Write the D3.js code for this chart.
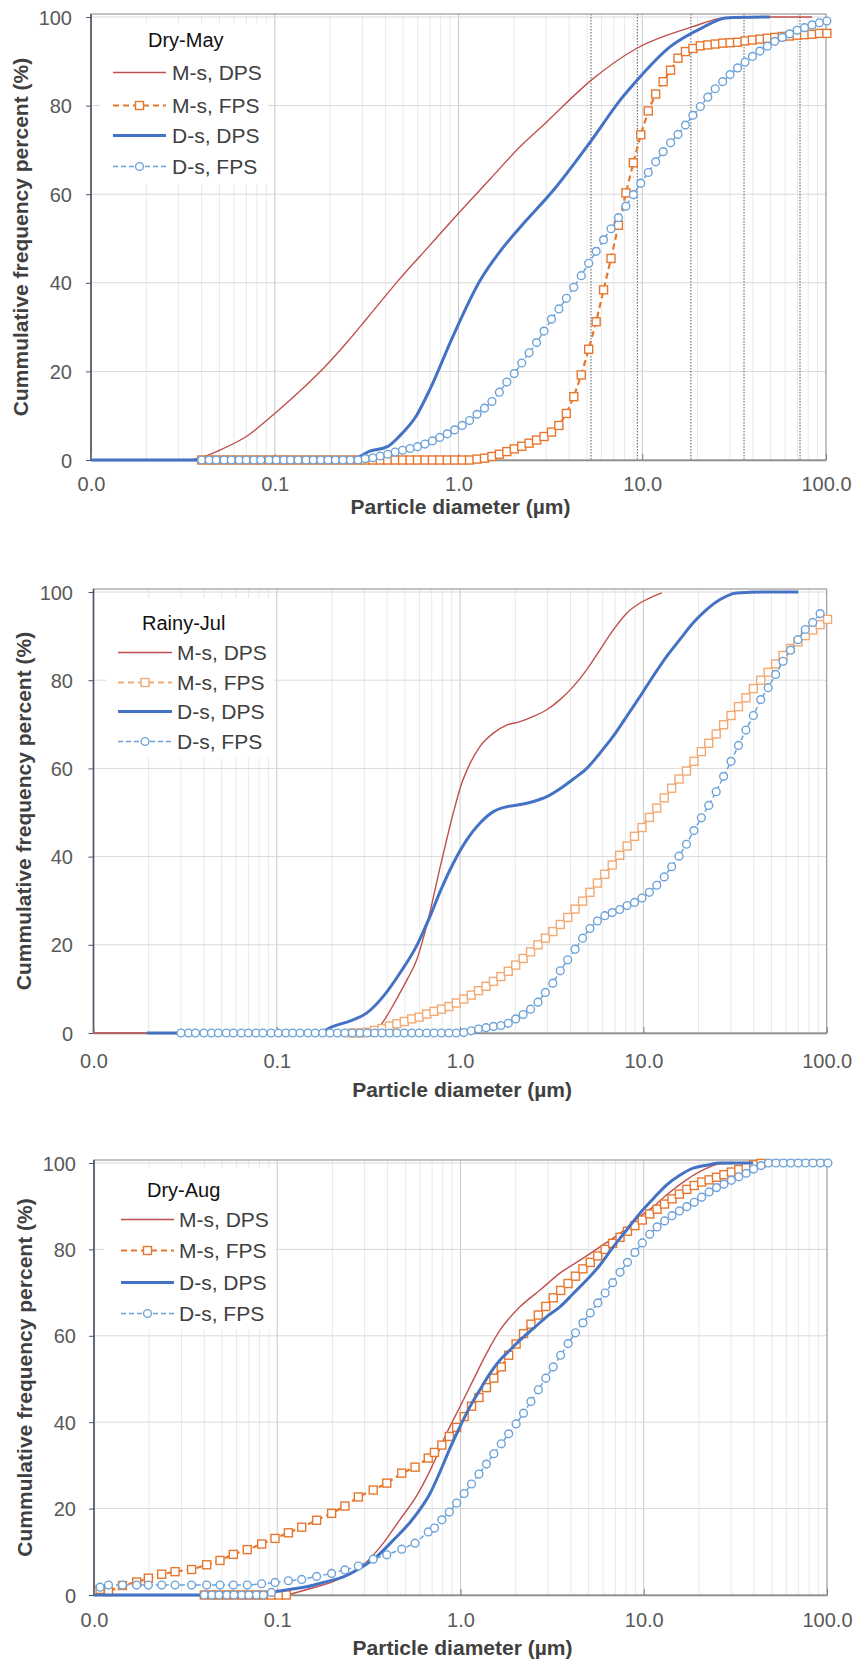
<!DOCTYPE html>
<html><head><meta charset="utf-8">
<script src="https://cdn.jsdelivr.net/npm/d3@7"></script>
<style>body{margin:0;background:#fff}</style>
</head><body>
<svg id="c" width="853" height="1673"></svg>
<script>
// ---------------- DATA ----------------
const panelTitles = ["Dry-May", "Rainy-Jul", "Dry-Aug"];
const seriesNames = ["M-s, DPS", "M-s, FPS", "D-s, DPS", "D-s, FPS"];
const xTickValues = [0.01, 0.1, 1, 10, 100];
const xTickLabels = ["0.0", "0.1", "1.0", "10.0", "100.0"];
const yTickValues = [0, 20, 40, 60, 80, 100];
const xAxisTitle = "Particle diameter (\u00b5m)";
const yAxisTitle = "Cummulative frequency percent (%)";
const dottedSizes = [5.26, 9.4, 18.4, 35.8, 72.2];

// size channels (µm) used by the FPS marker series
const sizes = [0.030,0.033,0.036,
0.040,0.044,0.048,0.053,0.058,0.064,0.070,0.077,0.084,0.093,
0.102,0.112,0.122,0.134,0.148,0.162,0.178,0.195,0.214,0.235,
0.258,0.284,0.311,0.342,0.375,0.412,0.452,0.496,0.545,0.598,
0.657,0.721,0.791,0.869,0.953,1.047,1.149,1.261,1.385,1.520,
1.669,1.832,2.011,2.208,2.423,2.660,2.920,3.206,3.519,3.863,
4.241,4.656,5.111,5.611,6.159,6.761,7.422,8.148,8.944,9.819,
10.78,11.83,12.99,14.26,15.65,17.18,18.86,20.71,22.73,24.95,
27.39,30.07,33.01,36.24,39.78,43.67,47.94,52.62,57.77,63.41,
69.61,76.42,83.89,92.09,101.1];

// ---- Dry-May ----
const mayMsDpsSizes = [0.01,0.033,0.04,0.05,0.07,0.1,0.14,0.187,0.25,0.318,0.47,0.7,1.0,1.5,2.16,3.0,5.3,9.4,18.5,28,40,84];
const mayMsDpsValues = [0,0,0.6,2.2,5.3,10.5,15.9,21,26.8,32,40.5,48.5,55.7,63.6,70.7,76.2,85.8,93,97.7,99.8,100,100];
const mayDsDpsSizes = [0.01,0.257,0.33,0.41,0.48,0.59,0.7,0.93,1.31,1.75,2.16,3.3,5.3,7.6,9.4,14.2,21.5,28.5,49.5];
const mayDsDpsValues = [0,0,2,3,5.5,10,16,27.8,40.5,48,52.5,61,72.2,81.3,85.8,93.3,97.7,99.8,100];
const mayMsFps = [null,null,null,
0,0,0,0,0,0,0,0,0,0,
0,0,0,0,0,0,0,0,0,0,
0,0,0,0,0,0,0,0,0,0,
0,0,0,0,0,0,0,
0.2,0.4,0.8,
1.3,1.9,2.5,3.1,3.8,4.5,5.3,6.3,7.8,10.5,
14.3,19.2,25,31.2,38.4,45.5,53,60.3,67.1,73.4,
78.8,82.6,85.4,88,90.7,92.2,92.9,93.5,93.7,93.9,
94.1,94.2,94.3,94.6,94.8,95,95.2,95.4,95.6,95.7,
95.9,96,96.1,96.3,96.3];
const mayDsFps = [null,null,null,
0,0,0,0,0,0,0,0,0,0,
0,0,0,0,0,0,0,0,0,0,
0,0,
0.3,0.5,0.9,1.3,1.8,2.2,2.6,3.0,
3.6,4.3,5.1,5.9,6.8,7.8,8.9,10.3,11.7,13.2,
15.3,17.6,19.5,21.9,24.2,26.5,29.1,31.8,34.1,36.5,
39,41.6,44.4,47.1,49.7,52.2,54.7,57.3,59.9,62.5,
64.9,67.3,69.6,71.6,73.5,75.6,77.8,79.8,81.9,83.8,
85.4,87.0,88.5,89.8,91.1,92.3,93.4,94.5,95.4,96.2,
97.0,97.6,98.2,98.7,99.1];

// ---- Rainy-Jul ----
const julMsDpsSizes = [0.01,0.336,0.36,0.398,0.43,0.47,0.52,0.58,0.63,0.686,0.73,0.777,0.83,0.881,0.94,1.0,1.135,1.285,1.518,1.795,2.12,2.51,2.97,3.51,4.15,4.91,5.8,6.85,8.11,9.58,11.3,12.6];
const julMsDpsValues = [0,0,1.2,3.8,6.2,9.1,12.5,16.6,21.5,27.5,32.5,37.5,42.5,47,51.5,55.5,61.2,65,68,69.8,70.6,71.8,73.3,75.6,78.6,82.4,86.9,91.4,95.2,97.5,99,99.8];
const julDsDpsSizes = [0.0196,0.165,0.203,0.261,0.309,0.381,0.47,0.58,0.686,0.777,0.918,1.087,1.285,1.518,1.795,2.12,2.51,2.97,3.51,4.15,4.91,5.8,6.85,8.11,9.58,11.3,13.4,15.8,18.7,22.1,26.2,32.3,45.1,70];
const julDsDpsValues = [0,0,1.5,3.0,4.5,8.3,13.6,19.8,26.5,32,38.5,43.8,47.6,50.2,51.3,51.8,52.5,53.6,55.4,57.6,60,63.5,67.3,71.8,76.3,80.9,85.4,89.2,93,96,98.3,99.8,100,100];
const julMsFps = [null,null,null,
null,null,null,null,null,null,null,null,null,null,
null,null,null,null,null,null,null,null,null,null,
0,0,0.2,0.6,1.0,1.6,2.1,2.6,3.2,3.6,
4.3,4.9,5.4,6.0,6.8,7.7,8.6,9.6,10.6,11.7,
12.8,14.0,15.4,16.9,18.4,20.0,21.5,23.0,24.6,26.2,
28.1,29.9,31.9,34.0,36.0,38.1,40.3,42.4,44.6,46.6,
48.9,51.0,53.3,55.5,57.6,59.4,61.6,63.8,65.7,67.8,
69.9,72.0,74.0,76.0,78.1,80.0,81.8,83.7,85.6,87.2,
88.7,90.1,91.4,92.6,93.8];
const julDsFps = [0,0,0,
0,0,0,0,0,0,0,0,0,0,
0,0,0,0,0,0,0,0,0,0,
0,0,0,0,0,0,0,0,0,0,
0,0,0,0,0,
0.1,0.5,0.9,1.2,1.5,
1.7,2.2,3.2,4.2,5.4,7.0,9.2,11.3,14.1,16.6,
19.0,21.5,23.7,25.4,26.6,27.3,28.0,28.9,29.6,30.6,
31.9,33.5,35.4,37.7,40.1,42.8,45.9,48.8,51.6,54.7,
58.2,61.6,65.2,68.7,72.0,75.6,78.3,81.3,84.3,86.8,
89.2,91.5,93.1,95.1,null];

// ---- Dry-Aug ----
const augMsDpsSizes = [0.1126,0.133,0.164,0.202,0.249,0.308,0.379,0.468,0.577,0.682,0.841,0.994,1.174,1.39,1.643,2.11,2.72,3.49,4.49,5.77,7.42,9.54,11.3,13.3,17.1,22.1,26.1,39.5];
const augMsDpsValues = [0,0.8,1.9,3.1,5.0,7.7,12,17.5,23,28.8,37.5,43.6,49.8,56,61.3,66.7,70.6,74.5,77.5,80.6,83.7,87.6,89.9,92.6,96.1,98.8,99.8,100];
const augDsDpsSizes = [0.01,0.071,0.0993,0.1174,0.1448,0.1862,0.2293,0.2829,0.3489,0.4299,0.530,0.601,0.682,0.773,0.877,0.994,1.127,1.277,1.449,1.643,1.863,2.11,2.50,2.95,3.49,4.13,4.88,5.77,6.82,8.07,9.54,11.3,13.3,15.8,18.6,22.1,26.1,39.5];
const augDsDpsValues = [0,0,0.8,1.3,1.9,3.1,4.2,6.2,8.9,12.7,16.8,19.8,23.5,28.5,34,39,43.6,47.5,51.3,54.4,56.7,59,61.7,64.4,66.7,69.8,72.9,76.4,80.6,84.5,88.4,91.8,94.9,97.2,98.8,99.5,100,100];
const augMsFps = [null,null,null,
0,0,0,0,0,0,0,0,0,0,0,0,
null,null,null,null,null,null,null,null,null,null,null,null,null,null,null,null,null,null,null,
33.0,34.7,36.7,38.8,41.3,43.7,45.7,48.0,50.2,
52.8,55.5,58.1,60.5,62.7,64.8,66.8,68.8,70.5,72.1,
73.8,75.5,77.0,78.5,80.0,81.4,82.8,84.2,85.5,86.8,
88.2,89.3,90.5,91.7,92.8,93.9,94.8,95.6,96.1,96.7,
97.3,97.9,98.5,99.1,99.6,99.9,
null,null,null,null,null,null,null,null,null];
const augDsFps = [null,null,null,
0,0,0,0,0,0,0,0,0,0.6,
null,null,null,null,null,null,null,null,null,null,null,null,null,null,null,null,null,null,null,null,null,
15.5,17.4,19.2,21.3,23.5,25.7,28.0,30.3,32.7,
35.0,37.3,39.6,42.1,44.8,47.5,50.2,52.8,55.5,58.2,
60.7,63.0,65.3,67.6,69.9,72.3,74.7,77.0,79.3,81.5,
83.5,85.2,86.6,87.8,88.9,89.9,90.9,92.1,93.3,94.3,
95.1,96.0,96.8,97.6,98.6,99.4,100,100,100,100,
100,100,100,100,100];
// fine-particle channels measured on a coarser grid (Dry-Aug FPS)
const augSparseSizes = [0.0108,0.0120,0.0143,0.0171,0.0198,0.0234,0.0277,0.0341,0.0412,0.0487,0.0576,0.0686,0.0822,0.0972,0.115,0.136,0.164,0.198,0.234,0.277,0.334,0.396,0.478,0.565,0.667];
const augMsFpsSparse = [1.3,0.8,2.2,3.0,3.9,4.8,5.4,5.9,7.0,8.0,9.4,10.5,11.8,13.1,14.4,15.7,17.3,18.9,20.6,22.7,24.3,25.9,28.2,29.6,31.7];
const augDsFpsSparse = [1.8,2.3,2.3,2.3,2.3,2.3,2.3,2.3,2.3,2.3,2.3,2.3,2.6,2.9,3.3,3.6,4.3,5.0,5.8,6.7,8.3,9.3,10.6,12.0,14.6];

// ---------------- LAYOUT / STYLE ----------------
const FONT = '"Liberation Sans", Arial, Helvetica, sans-serif';
const zip = (a, b) => a.map((d, i) => [d, b[i]]);

const panels = [
  { title: panelTitles[0], left: 91, right: 826, top: 17, bottom: 460,
    yLabelRight: 72, xLabelBase: 491, xTitleBase: 514, yTitleX: 28,
    legend: { box: [100, 24, 168, 160], titleX: 148, titleBase: 47, lx0: 113, lx1: 166, tx: 172, rows: [80, 113, 143, 174] },
    colors: { msDps: "#C0504D", msFps: "#E8772E", dsDps: "#4472C4", dsFps: "#6CA2D8" },
    dotted: true,
    msDps: zip(mayMsDpsSizes, mayMsDpsValues), dsDps: zip(mayDsDpsSizes, mayDsDpsValues),
    msFps: [zip(sizes, mayMsFps)], dsFps: [zip(sizes, mayDsFps)] },
  { title: panelTitles[1], left: 93.5, right: 826.7, top: 592, bottom: 1033,
    yLabelRight: 73, xLabelBase: 1068, xTitleBase: 1097, yTitleX: 31,
    legend: { box: [106, 598, 168, 160], titleX: 142, titleBase: 630, lx0: 118, lx1: 172, tx: 177, rows: [660, 690, 719, 749] },
    colors: { msDps: "#C0504D", msFps: "#F2AA74", dsDps: "#4472C4", dsFps: "#6CA2D8" },
    dotted: false,
    msDps: zip(julMsDpsSizes, julMsDpsValues), dsDps: zip(julDsDpsSizes, julDsDpsValues),
    msFps: [zip(sizes, julMsFps)], dsFps: [zip(sizes, julDsFps)] },
  { title: panelTitles[2], left: 94, right: 827, top: 1163, bottom: 1595,
    yLabelRight: 76, xLabelBase: 1627, xTitleBase: 1655, yTitleX: 32,
    legend: { box: [104, 1168, 172, 162], titleX: 147, titleBase: 1197, lx0: 121, lx1: 174, tx: 179, rows: [1227, 1258, 1290, 1321] },
    colors: { msDps: "#C0504D", msFps: "#E8772E", dsDps: "#4472C4", dsFps: "#6CA2D8" },
    dotted: false,
    msDps: zip(augMsDpsSizes, augMsDpsValues), dsDps: zip(augDsDpsSizes, augDsDpsValues),
    msFps: [zip(augSparseSizes, augMsFpsSparse), zip(sizes, augMsFps)],
    dsFps: [zip(augSparseSizes, augDsFpsSparse), zip(sizes, augDsFps)] }
];

const svg = d3.select("#c");

function drawPanel(p) {
  const g = svg.append("g");
  const x = d3.scaleLog().domain([0.01, 100]).range([p.left, p.right]);
  const y = d3.scaleLinear().domain([0, 100]).range([p.bottom, p.top]);
  const frameTop = p.top - 3;

  const isMajor = v => xTickValues.some(t => Math.abs(v - t) / t < 1e-6);
  // minor vertical grid
  g.append("g").selectAll("line").data(x.ticks().filter(v => !isMajor(v))).join("line")
    .attr("x1", d => x(d)).attr("x2", d => x(d)).attr("y1", frameTop).attr("y2", p.bottom)
    .attr("stroke", "#E9E9E9").attr("stroke-width", 1);
  // major vertical grid
  g.append("g").selectAll("line").data(xTickValues.slice(1, -1)).join("line")
    .attr("x1", d => x(d)).attr("x2", d => x(d)).attr("y1", frameTop).attr("y2", p.bottom)
    .attr("stroke", "#C8C8C8").attr("stroke-width", 1);
  // horizontal grid
  g.append("g").selectAll("line").data(yTickValues.slice(1)).join("line")
    .attr("x1", p.left).attr("x2", p.right).attr("y1", d => y(d)).attr("y2", d => y(d))
    .attr("stroke", "#D9D9D9").attr("stroke-width", 1);
  // dotted reference lines
  if (p.dotted) {
    g.append("g").selectAll("line").data(dottedSizes).join("line")
      .attr("x1", d => x(d)).attr("x2", d => x(d)).attr("y1", frameTop).attr("y2", p.bottom)
      .attr("stroke", "#555").attr("stroke-width", 1).attr("stroke-dasharray", "1.5,1.5");
  }
  // frame
  g.append("rect").attr("x", p.left).attr("y", frameTop).attr("width", p.right - p.left)
    .attr("height", p.bottom - frameTop).attr("fill", "none").attr("stroke", "#9A9A9A").attr("stroke-width", 1.2);

  // axes
  const ya = g.append("g").attr("transform", `translate(${p.left},0)`)
    .call(d3.axisLeft(y).tickValues(yTickValues).tickSizeInner(5).tickSizeOuter(0).tickFormat(d3.format("d")));
  ya.select(".domain").attr("stroke", "#4A5666").attr("stroke-width", 1.6).attr("d", `M0,${frameTop}V${p.bottom}`);
  ya.selectAll(".tick line").attr("stroke", "#4A5666");
  ya.selectAll("text").attr("x", -(p.left - p.yLabelRight)).attr("dy", "0.35em")
    .attr("font-family", FONT).attr("font-size", 20).attr("fill", "#595959");

  const xa = g.append("g").attr("transform", `translate(0,${p.bottom})`)
    .call(d3.axisBottom(x).tickValues(xTickValues).tickSizeInner(-6).tickSizeOuter(0)
      .tickFormat((d, i) => xTickLabels[i]));
  xa.select(".domain").attr("stroke", "#8C8C8C").attr("stroke-width", 1.4);
  xa.selectAll(".tick line").attr("stroke", "#7F7F7F");
  xa.selectAll("text").attr("y", p.xLabelBase - p.bottom).attr("dy", 0)
    .attr("font-family", FONT).attr("font-size", 20).attr("fill", "#595959");

  // titles
  g.append("text").attr("x", (p.left + p.right) / 2 + 2).attr("y", p.xTitleBase)
    .attr("text-anchor", "middle").attr("font-family", FONT).attr("font-size", 21)
    .attr("font-weight", "bold").attr("fill", "#404040").text(xAxisTitle);
  g.append("text").attr("transform", `translate(${p.yTitleX},${(frameTop + p.bottom) / 2}) rotate(-90)`)
    .attr("text-anchor", "middle").attr("font-family", FONT).attr("font-size", 21)
    .attr("font-weight", "bold").attr("fill", "#404040").text(yAxisTitle);

  // series
  const smooth = d3.line().defined(d => d[1] != null).x(d => x(d[0])).y(d => y(d[1])).curve(d3.curveMonotoneX);
  const straight = d3.line().defined(d => d[1] != null).x(d => x(d[0])).y(d => y(d[1]));
  const c = p.colors;

  // M-s DPS
  g.append("path").attr("d", smooth(p.msDps)).attr("fill", "none").attr("stroke", c.msDps).attr("stroke-width", 1.4);
  // M-s FPS
  p.msFps.forEach(seg => {
    g.append("path").attr("d", straight(seg)).attr("fill", "none").attr("stroke", c.msFps)
      .attr("stroke-width", 2.2).attr("stroke-dasharray", "6,4");
  });
  p.msFps.forEach(seg => {
    g.append("g").selectAll("rect").data(seg.filter(d => d[1] != null)).join("rect")
      .attr("x", d => x(d[0]) - 4).attr("y", d => y(d[1]) - 4).attr("width", 8).attr("height", 8)
      .attr("fill", "#fff").attr("stroke", c.msFps).attr("stroke-width", 1.4);
  });
  // D-s DPS
  g.append("path").attr("d", smooth(p.dsDps)).attr("fill", "none").attr("stroke", c.dsDps).attr("stroke-width", 3);
  // D-s FPS
  p.dsFps.forEach(seg => {
    g.append("path").attr("d", straight(seg)).attr("fill", "none").attr("stroke", c.dsFps)
      .attr("stroke-width", 1.5).attr("stroke-dasharray", "5,3");
  });
  p.dsFps.forEach(seg => {
    g.append("g").selectAll("circle").data(seg.filter(d => d[1] != null)).join("circle")
      .attr("cx", d => x(d[0])).attr("cy", d => y(d[1])).attr("r", 3.9)
      .attr("fill", "#fff").attr("stroke", c.dsFps).attr("stroke-width", 1.4);
  });

  // legend
  const L = p.legend;
  const lg = g.append("g");
  lg.append("rect").attr("x", L.box[0]).attr("y", L.box[1]).attr("width", L.box[2]).attr("height", L.box[3]).attr("fill", "#fff");
  lg.append("text").attr("x", L.titleX).attr("y", L.titleBase).attr("font-family", FONT)
    .attr("font-size", 20).attr("fill", "#111").text(p.title);
  const styles = [
    { color: c.msDps, w: 1.4, dash: null, marker: null },
    { color: c.msFps, w: 2.2, dash: "6,4", marker: "square" },
    { color: c.dsDps, w: 3, dash: null, marker: null },
    { color: c.dsFps, w: 1.5, dash: "5,3", marker: "circle" }
  ];
  seriesNames.forEach((name, i) => {
    const cy = L.rows[i] - 7.5, s = styles[i];
    lg.append("line").attr("x1", L.lx0).attr("x2", L.lx1).attr("y1", cy).attr("y2", cy)
      .attr("stroke", s.color).attr("stroke-width", s.w).attr("stroke-dasharray", s.dash);
    const mx = (L.lx0 + L.lx1) / 2;
    if (s.marker === "square") {
      lg.append("rect").attr("x", mx - 4).attr("y", cy - 4).attr("width", 8).attr("height", 8)
        .attr("fill", "#fff").attr("stroke", s.color).attr("stroke-width", 1.4);
    } else if (s.marker === "circle") {
      lg.append("circle").attr("cx", mx).attr("cy", cy).attr("r", 3.9)
        .attr("fill", "#fff").attr("stroke", s.color).attr("stroke-width", 1.4);
    }
    lg.append("text").attr("x", L.tx).attr("y", L.rows[i]).attr("font-family", FONT)
      .attr("font-size", 21).attr("fill", "#404040").text(name);
  });
}

panels.forEach(drawPanel);
</script>
</body></html>
